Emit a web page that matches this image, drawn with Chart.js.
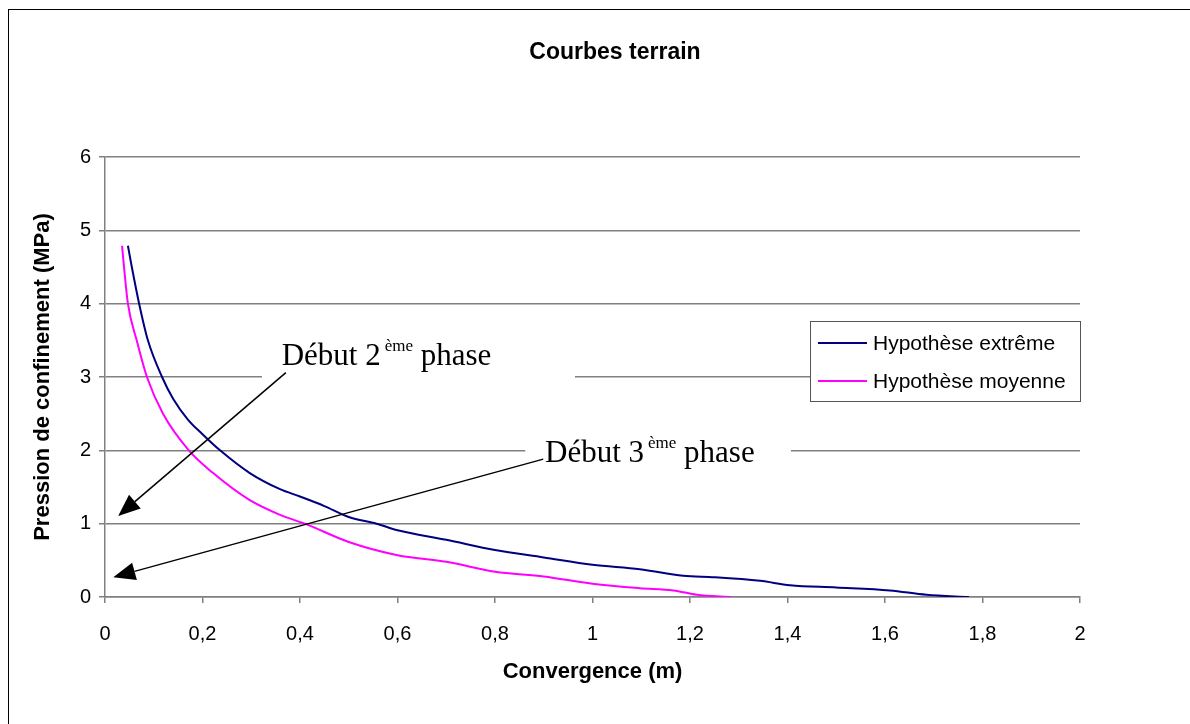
<!DOCTYPE html>
<html>
<head>
<meta charset="utf-8">
<script src="https://cdn.jsdelivr.net/npm/chart.js@4/dist/chart.umd.min.js"></script>
<style>
  html, body { margin: 0; padding: 0; background: #fff; }
  canvas { display: block; }
</style>
</head>
<body>
<canvas id="terrainChart" width="1190" height="724"></canvas>
<script>
// courbes terrain - convergence / confinement
const extremeX = [0.047, 0.055, 0.07, 0.088, 0.117, 0.14, 0.17, 0.2, 0.236, 0.297, 0.359, 0.4, 0.45, 0.5, 0.557, 0.6, 0.7, 0.8, 0.9, 1.0, 1.097, 1.186, 1.25, 1.344, 1.405, 1.5, 1.61, 1.685, 1.772];
const extremeY = [4.79, 4.5, 4.0, 3.5, 3.0, 2.7, 2.42, 2.22, 2.0, 1.69, 1.47, 1.37, 1.24, 1.09, 1.0, 0.91, 0.78, 0.64, 0.54, 0.44, 0.38, 0.29, 0.27, 0.22, 0.16, 0.13, 0.09, 0.03, 0];

const moyenneX = [0.035, 0.039, 0.047, 0.065, 0.086, 0.119, 0.172, 0.22, 0.297, 0.359, 0.41, 0.5, 0.6, 0.7, 0.8, 0.9, 1.0, 1.097, 1.166, 1.214, 1.285];
const moyenneY = [4.79, 4.5, 4.0, 3.5, 3.0, 2.5, 2.0, 1.7, 1.32, 1.12, 1.0, 0.75, 0.57, 0.48, 0.345, 0.28, 0.18, 0.12, 0.09, 0.03, 0];

const seriesLabels = ["Hypothèse extrême", "Hypothèse moyenne"];
const seriesColors = ["#000080", "#FF00FF"];

const xTicks = [0, 0.2, 0.4, 0.6, 0.8, 1, 1.2, 1.4, 1.6, 1.8, 2];
const yTicks = [0, 1, 2, 3, 4, 5, 6];

const chartTitle = "Courbes terrain";

// notes "Début ... phase" (en unités des axes)
const noteParts = [["Début 2", "ème", " phase"], ["Début 3", "ème", " phase"]];
const noteX = [0.3625, 0.9026];
const noteY = [3.164, 1.841];
const noteBoxX = [[0.322, 0.964], [0.862, 1.407]];
const noteBoxY = [[3.57, 2.75], [2.35, 1.6]];
const arrowFrom = [[0.371, 3.06], [0.899, 1.88]];
const arrowTo = [[0.027, 1.105], [0.017, 0.27]];

function toPoints(xs, ys) {
    return xs.map((x, i) => ({ x: x, y: ys[i] }));
}

const frameAndNotes = {
    id: "frameAndNotes",
    beforeDraw(chart) {
        const ctx = chart.ctx;
        ctx.save();
        ctx.fillStyle = "#fff";
        ctx.fillRect(0, 0, chart.width, chart.height);
        ctx.restore();
    },
    beforeDatasetsDraw(chart) {
        const ctx = chart.ctx;
        const xs = chart.scales.x, ys = chart.scales.y;
        ctx.save();
        ctx.fillStyle = "#fff";
        noteBoxX.forEach((bx, i) => {
            const x0 = xs.getPixelForValue(bx[0]), x1 = xs.getPixelForValue(bx[1]);
            const y0 = ys.getPixelForValue(noteBoxY[i][0]), y1 = ys.getPixelForValue(noteBoxY[i][1]);
            ctx.fillRect(x0, y0, x1 - x0, y1 - y0);
        });
        ctx.restore();
    },
    afterDatasetsDraw(chart) {
        const ctx = chart.ctx;
        const xs = chart.scales.x, ys = chart.scales.y;
        const area = chart.chartArea;
        ctx.save();

        // texts
        ctx.fillStyle = "#000";
        ctx.textBaseline = "alphabetic";
        ctx.textAlign = "left";
        noteParts.forEach((parts, i) => {
            let x = xs.getPixelForValue(noteX[i]);
            const y = ys.getPixelForValue(noteY[i]);
            ctx.font = "31px 'Liberation Serif', 'Times New Roman', serif";
            ctx.fillText(parts[0], x, y);
            x += ctx.measureText(parts[0]).width + 4;
            ctx.font = "17px 'Liberation Serif', 'Times New Roman', serif";
            ctx.fillText(parts[1], x, y - 14);
            x += ctx.measureText(parts[1]).width;
            ctx.font = "31px 'Liberation Serif', 'Times New Roman', serif";
            ctx.fillText(parts[2], x, y);
        });

        // arrows
        ctx.strokeStyle = "#000";
        ctx.lineWidth = 1.5;
        arrowFrom.forEach((from, i) => {
            const x0 = xs.getPixelForValue(from[0]), y0 = ys.getPixelForValue(from[1]);
            const x1 = xs.getPixelForValue(arrowTo[i][0]), y1 = ys.getPixelForValue(arrowTo[i][1]);
            const ang = Math.atan2(y1 - y0, x1 - x0);
            const len = 22, half = 9;
            const bx = x1 - len * Math.cos(ang), by = y1 - len * Math.sin(ang);
            ctx.beginPath();
            ctx.moveTo(x0, y0);
            ctx.lineTo(bx, by);
            ctx.stroke();
            ctx.beginPath();
            ctx.moveTo(x1, y1);
            ctx.lineTo(bx + half * Math.sin(ang), by - half * Math.cos(ang));
            ctx.lineTo(bx - half * Math.sin(ang), by + half * Math.cos(ang));
            ctx.closePath();
            ctx.fill();
        });

        // legend box
        const lw = 270, lh = 80;
        const lx = area.right - lw, ly = 321;
        ctx.fillStyle = "#fff";
        ctx.fillRect(lx, ly, lw, lh);
        ctx.strokeStyle = "#555";
        ctx.lineWidth = 1;
        ctx.strokeRect(lx + 0.5, ly + 0.5, lw, lh);
        ctx.font = "21px 'Liberation Sans', Arial, sans-serif";
        ctx.textBaseline = "middle";
        seriesLabels.forEach((label, i) => {
            const yy = ly + 22 + i * 38;
            ctx.strokeStyle = seriesColors[i];
            ctx.lineWidth = 2;
            ctx.beginPath();
            ctx.moveTo(lx + 8, yy);
            ctx.lineTo(lx + 57, yy);
            ctx.stroke();
            ctx.fillStyle = "#000";
            ctx.fillText(label, lx + 63, yy + 1);
        });
        ctx.restore();
    },
    afterDraw(chart) {
        const ctx = chart.ctx;
        ctx.save();
        // title
        ctx.fillStyle = "#000";
        ctx.font = "bold 23px 'Liberation Sans', Arial, sans-serif";
        ctx.textAlign = "center";
        ctx.textBaseline = "middle";
        ctx.fillText(chartTitle, chart.width / 2 + 20, 53);
        // outer frame
        ctx.strokeStyle = "#000";
        ctx.lineWidth = 1;
        ctx.strokeRect(8.5, 9.5, 1300, 900);
        ctx.restore();
    }
};

const ctx = document.getElementById("terrainChart").getContext("2d");
new Chart(ctx, {
    type: "scatter",
    data: {
        datasets: [
            {
                label: seriesLabels[0],
                data: toPoints(extremeX, extremeY),
                showLine: true,
                borderColor: seriesColors[0],
                backgroundColor: seriesColors[0],
                borderWidth: 2,
                pointRadius: 0,
                cubicInterpolationMode: "monotone"
            },
            {
                label: seriesLabels[1],
                data: toPoints(moyenneX, moyenneY),
                showLine: true,
                borderColor: seriesColors[1],
                backgroundColor: seriesColors[1],
                borderWidth: 2,
                pointRadius: 0,
                cubicInterpolationMode: "monotone"
            }
        ]
    },
    options: {
        responsive: false,
        animation: false,
        layout: { padding: { left: 0, right: 110, top: 157, bottom: 0 } },
        plugins: {
            legend: { display: false },
            tooltip: { enabled: false },
            title: { display: false }
        },
        scales: {
            x: {
                type: "linear",
                min: 0,
                max: 2,
                afterBuildTicks: (axis) => { axis.ticks = xTicks.map(v => ({ value: v })); },
                afterFit: (axis) => { axis.height = 127; },
                ticks: {
                    color: "#000",
                    padding: 19,
                    font: { family: "'Liberation Sans', Arial, sans-serif", size: 20 },
                    callback: (v) => String(v).replace(".", ",")
                },
                grid: { drawOnChartArea: false, drawTicks: true, tickLength: 6, color: "#808080", lineWidth: 1.5 },
                border: { color: "#808080", width: 1.5 },
                title: {
                    display: true,
                    text: "Convergence (m)",
                    color: "#000",
                    font: { family: "'Liberation Sans', Arial, sans-serif", size: 22, weight: "bold" },
                    padding: { top: 0, bottom: 38.8 }
                }
            },
            y: {
                type: "linear",
                min: 0,
                max: 6,
                afterBuildTicks: (axis) => { axis.ticks = yTicks.map(v => ({ value: v })); },
                afterFit: (axis) => { axis.width = 105; },
                ticks: {
                    color: "#000",
                    padding: 8,
                    font: { family: "'Liberation Sans', Arial, sans-serif", size: 20 }
                },
                grid: { tickLength: 6, color: "#808080", lineWidth: 1.5 },
                border: { color: "#808080", width: 1.5 },
                title: {
                    display: true,
                    text: "Pression de confinement (MPa)",
                    color: "#000",
                    font: { family: "'Liberation Sans', Arial, sans-serif", size: 22, weight: "bold" },
                    padding: { top: 30, bottom: 0 }
                }
            }
        }
    },
    plugins: [frameAndNotes]
});
</script>
</body>
</html>
